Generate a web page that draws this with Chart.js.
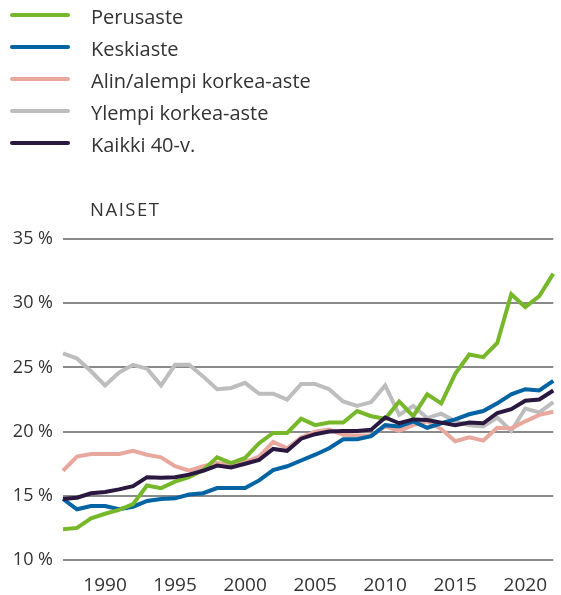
<!DOCTYPE html>
<html>
<head>
<meta charset="utf-8">
<script src="https://cdn.jsdelivr.net/npm/chart.js@4/dist/chart.umd.min.js"></script>
<style>
  html, body { margin: 0; padding: 0; background: #fff; }
  #wrap { position: relative; width: 561px; height: 595px; font-family: "Open Sans", Lato, sans-serif; color: #333; }
  #chart { position: absolute; left: 0; top: 0; }
  .leg { position: absolute; left: 10px; height: 30px; }
  .leg .sw { position: absolute; left: 0; width: 60px; height: 4px; border-radius: 2px; }
  .leg .tx { position: absolute; left: 81px; font-size: 20px; line-height: 24px; white-space: nowrap; }
  #title { position: absolute; left: 90px; top: 199px; font-size: 18.5px; line-height: 20px; letter-spacing: 1.5px; }
</style>
</head>
<body>
<div id="wrap">
  <canvas id="chart" width="561" height="595"></canvas>
  <div id="legend"></div>
  <div id="title">NAISET</div>
</div>
<script>
const years = [];
for (let y = 1987; y <= 2022; y++) years.push(String(y));

const seriesNames = ["Perusaste", "Keskiaste", "Alin/alempi korkea-aste", "Ylempi korkea-aste", "Kaikki 40-v."];

const perusaste = [12.4,12.5,13.25,13.6,13.9,14.35,15.8,15.6,16.1,16.45,
                   17.0,18.0,17.55,17.95,19.1,19.9,19.9,21.0,20.5,20.7,
                   20.7,21.6,21.2,21.0,22.35,21.2,22.9,22.2,24.5,26.0,
                   25.8,26.9,30.7,29.7,30.55,32.3];
const keskiaste = [14.75,13.95,14.2,14.2,13.95,14.15,14.6,14.75,14.8,15.1,
                   15.2,15.6,15.6,15.6,16.2,17.0,17.3,17.75,18.2,18.7,
                   19.4,19.4,19.65,20.5,20.4,20.8,20.3,20.65,20.95,21.35,
                   21.6,22.2,22.9,23.3,23.2,23.95];
const alinAlempi = [16.95,18.05,18.25,18.25,18.25,18.5,18.2,18.0,17.3,16.95,
                    17.3,17.55,17.4,17.65,18.05,19.2,18.7,19.55,20.0,20.15,
                    19.75,19.7,19.7,20.4,20.05,20.5,20.8,20.2,19.25,19.55,
                    19.3,20.3,20.25,20.8,21.3,21.55];
const ylempi = [26.1,25.7,24.7,23.6,24.6,25.2,24.9,23.6,25.2,25.2,
                24.3,23.3,23.4,23.8,22.95,22.95,22.5,23.7,23.7,23.3,
                22.35,22.0,22.3,23.6,21.3,22.0,21.05,21.4,20.8,20.5,
                20.4,21.1,20.05,21.8,21.5,22.3];
const kaikki = [14.75,14.85,15.2,15.3,15.5,15.75,16.45,16.4,16.45,16.65,
                16.95,17.35,17.2,17.5,17.8,18.65,18.5,19.45,19.8,20.0,
                20.05,20.05,20.15,21.1,20.65,20.95,20.9,20.7,20.5,20.7,
                20.65,21.45,21.75,22.4,22.5,23.2];

const yTicks = [10, 15, 20, 25, 30, 35];

const colors = ["#77b82b", "#0063a3", "#e9a89e", "#bdbdbd", "#2a1840"];
const seriesData = [perusaste, keskiaste, alinAlempi, ylempi, kaikki];
const drawOrder = [1, 2, 3, 4, 0];

// legend
const legend = document.getElementById('legend');
const legTops = [5, 37, 69, 101, 133];
seriesNames.forEach((n, i) => {
  const d = document.createElement('div');
  d.className = 'leg';
  d.style.top = legTops[i] + 'px';
  d.innerHTML = '<div class="sw" style="top:8px;background:' + colors[i] + '"></div><div class="tx" style="top:0px">' + n + '</div>';
  legend.appendChild(d);
});

new Chart(document.getElementById('chart'), {
  type: 'line',
  data: {
    labels: years,
    datasets: seriesNames.map((n, i) => ({
      label: n,
      data: seriesData[i],
      borderColor: colors[i],
      backgroundColor: colors[i],
      borderWidth: 4,
      pointRadius: 0,
      tension: 0,
      fill: false,
      order: drawOrder[i]
    }))
  },
  options: {
    responsive: false,
    animation: false,
    layout: { padding: { top: 239, right: 0, left: 0, bottom: 0 } },
    plugins: { legend: { display: false }, tooltip: { enabled: false }, title: { display: false } },
    scales: {
      x: {
        type: 'category',
        offset: false,
        grid: { display: false, drawTicks: false },
        border: { display: false },
        ticks: {
          autoSkip: false,
          maxRotation: 0,
          padding: 14,
          color: '#333',
          font: { family: 'Open Sans', size: 19 },
          callback: function(v, i) { const y = Number(years[i]); return (y % 5 === 0) ? String(y) : null; }
        },
        afterFit: s => { s.height = 35; }
      },
      y: {
        min: 10, max: 35,
        afterBuildTicks: s => { s.ticks = yTicks.map(v => ({ value: v })); },
        grid: { color: '#8a8a8a', lineWidth: 2, drawTicks: false },
        border: { display: false },
        ticks: {
          padding: 10,
          color: '#333',
          font: { family: 'Open Sans', size: 18 },
          callback: v => v + ' %'
        },
        afterFit: s => { s.width = 63; }
      }
    }
  }
});
</script>
</body>
</html>
